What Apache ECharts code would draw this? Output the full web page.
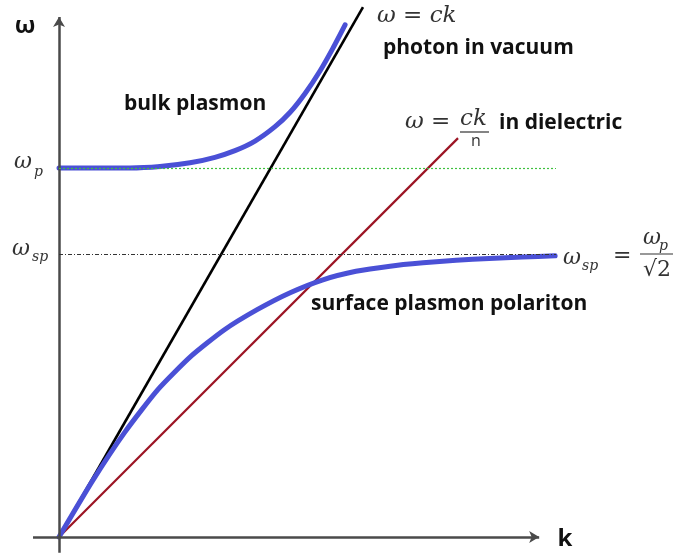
<!DOCTYPE html>
<html>
<head>
<meta charset="utf-8">
<script src="https://cdn.jsdelivr.net/npm/echarts@6/dist/echarts.min.js"></script>
<style>
  html, body { margin: 0; padding: 0; background: #fff; }
  #chart { width: 677px; height: 556px; }
</style>
</head>
<body>
<div id="chart"></div>
<script>
// Dispersion relations, in units of ω_p (frequency) and ω_p/c (wavevector)
const omegaP = 1.0;
const omegaSP = 0.767;
const flatEndK = 2.333;

const vacuumK = [0, 1.427];
const vacuumW = [0, 1.436];

const dielectricK = [0, 1.873];
const dielectricW = [0, 1.081];

const bulkK = [0, 0.192, 0.333, 0.474, 0.615, 0.732, 0.826, 0.920, 1.014, 1.085, 1.155, 1.225, 1.286, 1.343];
const bulkW = [1.0, 1.0, 1.0, 1.004, 1.014, 1.029, 1.047, 1.073, 1.112, 1.151, 1.202, 1.263, 1.325, 1.388];

const sppK = [0, 0.155, 0.310, 0.465, 0.620, 0.775, 0.930, 1.085, 1.239, 1.394, 1.554, 1.709, 1.864, 2.019, 2.174, 2.329];
const sppW = [0, 0.150, 0.285, 0.400, 0.490, 0.561, 0.616, 0.662, 0.697, 0.720, 0.734, 0.743, 0.750, 0.755, 0.759, 0.762];

const axisKRange = [-0.122, 2.254];
const axisWRange = [-0.043, 1.409];

const zip = (xs, ys) => xs.map((x, i) => [x, ys[i]]);

const serif = '"DejaVu Serif", "Liberation Serif", serif';
const sans = '"Open Sans", "Noto Sans", sans-serif';
const ink = '#111';
const mathInk = '#333';

function txt(x, y, text, font, align, fill) {
  return {
    type: 'text', x: x, y: y, silent: true,
    style: {
      text: text, font: font, fill: fill || ink,
      align: align || 'left', verticalAlign: 'middle',
      textAlign: align || 'left', textVerticalAlign: 'middle'
    }
  };
}
function bar(x1, x2, y) {
  return { type: 'line', silent: true, shape: { x1: x1, y1: y, x2: x2, y2: y },
           style: { stroke: mathInk, lineWidth: 1.2 } };
}

const chart = echarts.init(document.getElementById('chart'), null, { renderer: 'canvas' });

chart.setOption({
  animation: false,
  backgroundColor: '#fff',
  grid: { left: 0, right: 0, top: 0, bottom: 0 },
  xAxis: { type: 'value', min: -0.277, max: 2.901, show: false },
  yAxis: { type: 'value', min: -0.0515, max: 1.4553, show: false },
  series: [
    {
      // coordinate axes with arrow heads
      type: 'line', data: [], silent: true,
      markLine: {
        silent: true, animation: false,
        symbol: ['none', 'arrow'], symbolSize: [9, 10],
        label: { show: false },
        lineStyle: { color: '#4a4a4a', width: 2.5, type: 'solid' },
        data: [
          [{ coord: [axisKRange[0], 0] }, { coord: [axisKRange[1], 0] }],
          [{ coord: [0, axisWRange[0]] }, { coord: [0, axisWRange[1]] }]
        ]
      }
    },
    {
      // ω_p and ω_sp reference levels
      type: 'line', data: [], silent: true,
      markLine: {
        silent: true, animation: false, symbol: ['none', 'none'],
        label: { show: false },
        data: [
          [{ coord: [0, omegaP], lineStyle: { color: '#3fc03f', width: 1.2, type: [2, 2] } },
           { coord: [flatEndK, omegaP] }],
          [{ coord: [0, omegaSP], lineStyle: { color: '#333', width: 1, type: [4, 2, 1, 2] } },
           { coord: [flatEndK, omegaSP] }]
        ]
      }
    },
    {
      name: 'dielectric light line', type: 'line', data: zip(dielectricK, dielectricW),
      showSymbol: false, lineStyle: { color: '#9c1424', width: 2.2 }, z: 3
    },
    {
      name: 'vacuum light line', type: 'line', data: zip(vacuumK, vacuumW),
      showSymbol: false, lineStyle: { color: '#000', width: 2.6 }, z: 3
    },
    {
      name: 'bulk plasmon', type: 'line', data: zip(bulkK, bulkW),
      showSymbol: false, smooth: 0.2,
      lineStyle: { color: '#4a50d6', width: 5, cap: 'round', join: 'round' }, z: 4
    },
    {
      name: 'surface plasmon polariton', type: 'line', data: zip(sppK, sppW),
      showSymbol: false, smooth: 0.2,
      lineStyle: { color: '#4a50d6', width: 5, cap: 'round', join: 'round' }, z: 4
    }
  ],
  graphic: [
    // axis titles
    txt(25, 26, 'ω', 'bold 24px ' + sans, 'center'),
    txt(565, 539, 'k', 'bold 24px ' + sans, 'center'),
    // level labels on the ω axis
    txt(14, 162, 'ω', 'italic 22px ' + serif, 'left', mathInk),
    txt(34, 172, 'p', 'italic 14px ' + serif, 'left', mathInk),
    txt(12, 249, 'ω', 'italic 22px ' + serif, 'left', mathInk),
    txt(32, 257, 'sp', 'italic 14px ' + serif, 'left', mathInk),
    // photon in vacuum
    txt(377, 16, 'ω = ck', 'italic 23px ' + serif, 'left', mathInk),
    txt(383, 48, 'photon in vacuum', 'bold 21px ' + sans, 'left'),
    // bulk plasmon
    txt(124, 104, 'bulk plasmon', 'bold 21px ' + sans, 'left'),
    // in dielectric
    txt(405, 122, 'ω =', 'italic 23px ' + serif, 'left', mathInk),
    txt(460, 119, 'ck', 'italic 23px ' + serif, 'left', mathInk),
    bar(460, 489, 132),
    txt(476, 141, 'n', '16px ' + sans, 'center', mathInk),
    txt(499, 123, 'in dielectric', 'bold 21px ' + sans, 'left'),
    // surface plasmon asymptote
    txt(563, 258, 'ω', 'italic 22px ' + serif, 'left', mathInk),
    txt(582, 266, 'sp', 'italic 14px ' + serif, 'left', mathInk),
    txt(613, 256, '=', '22px ' + serif, 'left', mathInk),
    txt(643, 238, 'ω', 'italic 22px ' + serif, 'left', mathInk),
    txt(659, 246, 'p', 'italic 14px ' + serif, 'left', mathInk),
    bar(640, 673, 254),
    txt(657, 270, '√2', '22px ' + serif, 'center', mathInk),
    // surface plasmon polariton
    txt(311, 304, 'surface plasmon polariton', 'bold 21px ' + sans, 'left')
  ]
});
</script>
</body>
</html>
